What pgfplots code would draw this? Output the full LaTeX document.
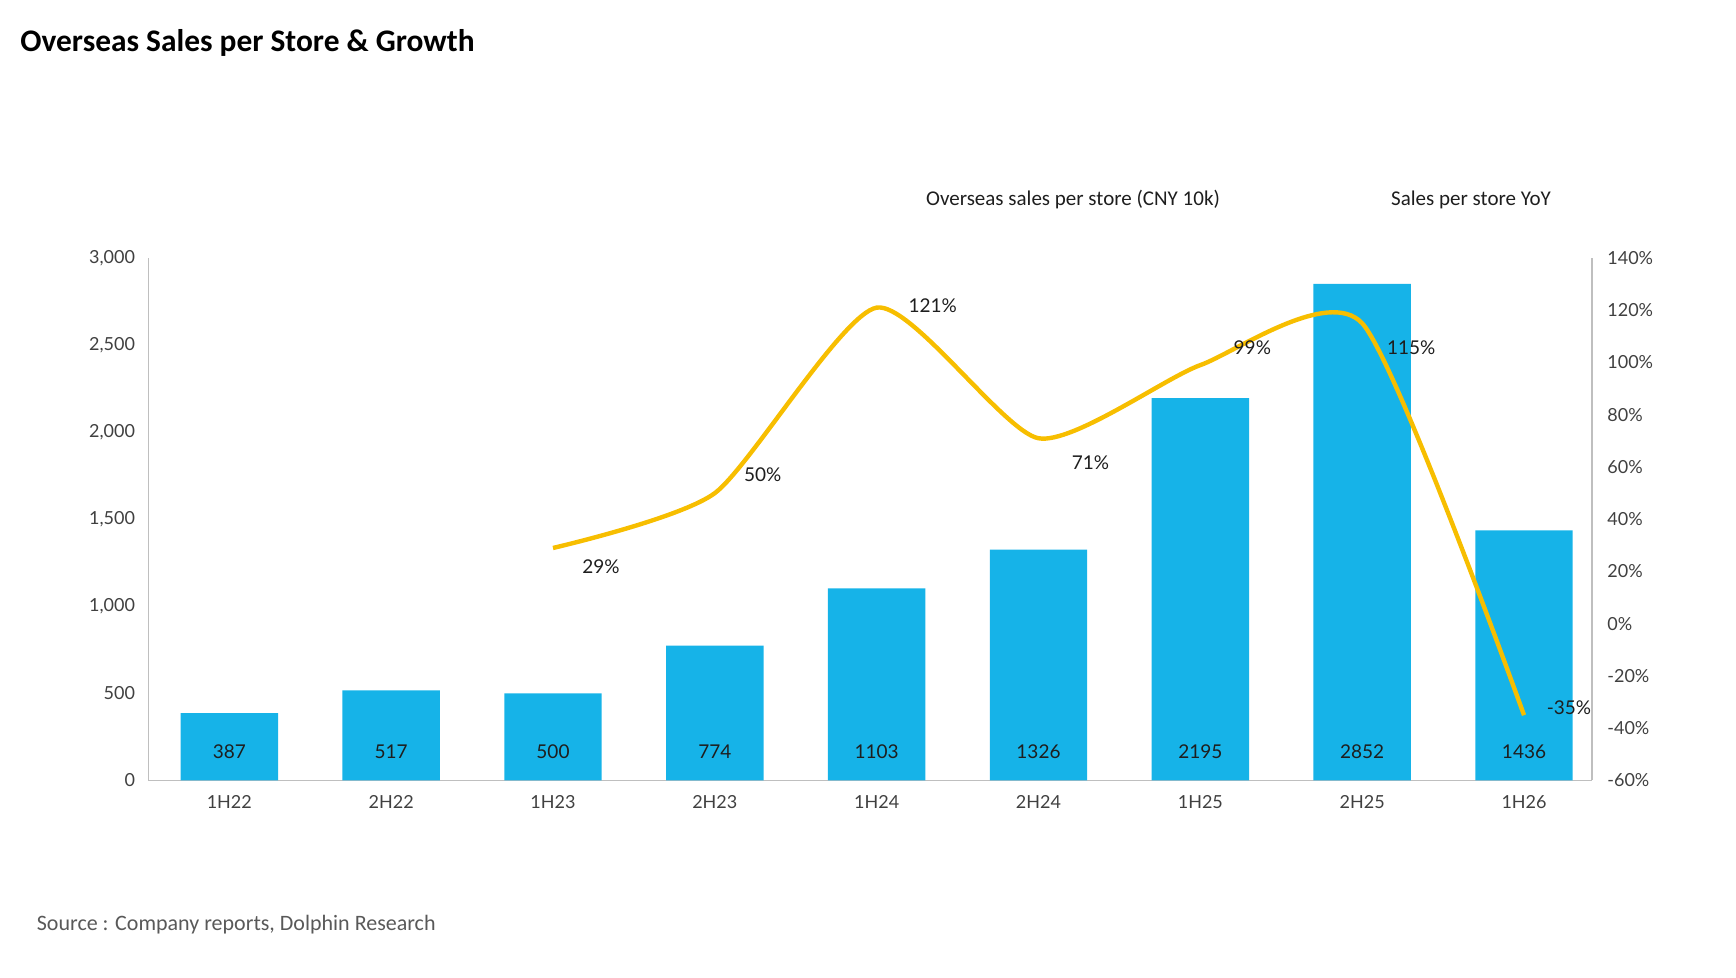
\documentclass[border=0pt]{standalone}
\usepackage{fontspec}
\setmainfont{Lato}
\newfontfamily\carlito{Carlito}
\usepackage{pgfplots}
\pgfplotsset{compat=1.18}
\usepackage{pgfplotstable}
\definecolor{barblue}{HTML}{16B3E8}
\definecolor{lineyel}{HTML}{F7BE00}
\definecolor{axgray}{HTML}{BFBFBF}
\definecolor{tickgray}{HTML}{404040}
\definecolor{labblack}{HTML}{1E1E1E}

\pgfplotstableread{
x y
0 387
1 517
2 500
3 774
4 1103
5 1326
6 2195
7 2852
8 1436
}\sales

\pgfplotstableread{
x v dx dy
2 29 24 -9.5
3 50 24 9
4 121 28 1
5 71 26 -12
6 99 26 8.75
7 115 24.5 -12
8 -35 22.5 3.5
}\yoy

\begin{document}
\begin{tikzpicture}
\path[use as bounding box] (0,0) rectangle (868pt,489pt);
\node[anchor=base west, inner sep=0pt, font=\carlito\bfseries\fontsize{15.7}{19}\selectfont] at (10pt,463.2pt) {Overseas Sales per Store \& Growth};
\node[anchor=base, inner sep=0pt, font=\carlito\fontsize{10.5}{12}\selectfont, text=labblack] at (536.5pt,386pt) {Overseas sales per store (CNY 10k)};
\node[anchor=base, inner sep=0pt, font=\carlito\fontsize{10.5}{12}\selectfont, text=labblack] at (735.5pt,386pt) {Sales per store YoY};
\node[anchor=base west, inner sep=0pt, font=\carlito\fontsize{11}{13}\selectfont, text=black!65] at (18.25pt,23.5pt) {Source : Company reports, Dolphin Research};

\begin{axis}[
  at={(74.2pt,98.75pt)}, anchor=south west,
  width=721.8pt, height=261.25pt, scale only axis,
  xmin=-0.5, xmax=8.42, ymin=0, ymax=3000,
  axis x line*=bottom, axis y line*=left,
  axis line style={draw=axgray, line width=0.8pt, -},
  major tick length=0pt,
  xtick={0,...,8},
  xticklabels={1H22,2H22,1H23,2H23,1H24,2H24,1H25,2H25,1H26},
  ytick={0,500,...,3000},
  scaled y ticks=false,
  /pgf/number format/1000 sep={,},
  /pgf/number format/assume math mode=true,
  tick label style={font=\fontsize{9}{10}\selectfont, text=tickgray},
  yticklabel style={anchor=east, inner sep=0pt, xshift=-6.5pt},
  xticklabel style={anchor=center, inner sep=0pt, yshift=-10.75pt},
  clip=false,
]
\addplot[ybar, bar width=48.7pt, fill=barblue, draw=none] table[x=x,y=y] {\sales};
\addplot[draw=none, mark=none, nodes near coords, point meta=explicit symbolic,
  every node near coord/.append style={anchor=center, inner sep=0pt, font=\fontsize{9.5}{11}\selectfont, text=labblack}]
  coordinates {(0,166)[387] (1,166)[517] (2,166)[500] (3,166)[774] (4,166)[1103] (5,166)[1326] (6,166)[2195] (7,166)[2852] (8,166)[1436]};
\end{axis}

\begin{axis}[
  at={(74.2pt,98.75pt)}, anchor=south west,
  width=721.8pt, height=261.25pt, scale only axis,
  xmin=-0.5, xmax=8.42, ymin=-60, ymax=140,
  axis x line=none, axis y line*=right,
  axis line style={draw=axgray, line width=0.8pt, -},
  major tick length=0pt,
  ytick={-60,-40,...,140},
  /pgf/number format/assume math mode=true,
  yticklabel={\pgfmathprintnumber{\tick}\%},
  yticklabel style={anchor=west, inner sep=0pt, xshift=7.5pt, font=\fontsize{9}{10}\selectfont, text=tickgray},
  clip=false,
]
\addplot[smooth, tension=0.38, lineyel, line width=2.2pt, mark=none] table[x=x,y=v] {\yoy};
\addplot[draw=none, mark=none, point meta=\thisrow{v},
  nodes near coords={\pgfmathprintnumber{\pgfplotspointmeta}\%},
  visualization depends on={\thisrow{dx} \as \dxv},
  visualization depends on={\thisrow{dy} \as \dyv},
  every node near coord/.append style={anchor=center, inner sep=0pt, xshift=\dxv pt, yshift=\dyv pt, font=\fontsize{9.5}{11}\selectfont, text=labblack}]
  table[x=x,y=v] {\yoy};
\end{axis}
\end{tikzpicture}
\end{document}
